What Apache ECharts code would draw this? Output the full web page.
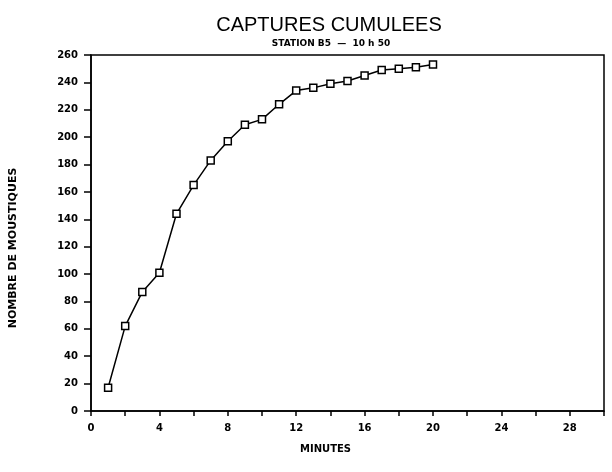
<!DOCTYPE html>
<html><head><meta charset="utf-8">
<script src="https://cdn.jsdelivr.net/npm/echarts@6/dist/echarts.min.js"></script>
<style>html,body{margin:0;padding:0;background:#fff}#c{width:612px;height:472px}</style>
</head><body><div id="c"></div>
<script>
const minutes = [1,2,3,4,5,6,7,8,9,10,11,12,13,14,15,16,17,18,19,20];
const captures = [17,62,87,101,144,165,183,197,209,213,224,234,236,239,241,245,249,250,251,253];
const titleText = 'CAPTURES CUMULEES';
const subtitleText = 'STATION B5  \u2014  10 h 50';
const xName = 'MINUTES';
const yName = 'NOMBRE DE MOUSTIQUES';

const chart = echarts.init(document.getElementById('c'), null, {renderer:'canvas'});
const lblFont = {fontFamily:'DejaVu Sans', fontWeight:'bold', fontSize:10, color:'#000'};
chart.setOption({
  animation:false,
  backgroundColor:'#fff',
  title:[
    {text:titleText, left:324, top:10, textAlign:'center',
     textStyle:{fontFamily:'Liberation Sans', fontWeight:'normal', fontSize:20, color:'#000'}},
    {text:subtitleText, left:326, top:34, textAlign:'center',
     textStyle:{fontFamily:'DejaVu Sans', fontWeight:'bold', fontSize:9, color:'#000'}}
  ],
  grid:{left:91, right:8, top:55, bottom:61, show:true, borderColor:'#000', borderWidth:1.5, backgroundColor:'transparent'},
  xAxis:{type:'value', min:0, max:30, interval:4,
    axisLine:{lineStyle:{color:'#000', width:1.5}},
    axisTick:{show:true, length:5, lineStyle:{color:'#000', width:1.5}},
    minorTick:{show:true, splitNumber:2, length:5, lineStyle:{color:'#000', width:1.5}},
    splitLine:{show:false},
    axisLabel:Object.assign({margin:12, showMaxLabel:false}, lblFont)
  },
  yAxis:{type:'value', min:0, max:260, interval:20,
    axisLine:{lineStyle:{color:'#000', width:1.5}},
    axisTick:{show:true, length:7, lineStyle:{color:'#000', width:1.5}},
    splitLine:{show:false},
    axisLabel:Object.assign({margin:13}, lblFont)
  },
  graphic:[
    {type:'text', left:300, top:444, style:{text:xName, font:'bold 10px "DejaVu Sans"', fill:'#000'}},
    {type:'text', x:13, y:248, rotation:Math.PI/2,
     style:{text:yName, font:'bold 11px "DejaVu Sans"', fill:'#000', textAlign:'center', textVerticalAlign:'middle'}}
  ],
  series:[{
    type:'line',
    data:minutes.map((m,i)=>[m,captures[i]]),
    symbol:'rect', symbolSize:7,
    lineStyle:{color:'#000', width:1.5},
    itemStyle:{color:'#fff', borderColor:'#000', borderWidth:1.5}
  }]
});
</script></body></html>
